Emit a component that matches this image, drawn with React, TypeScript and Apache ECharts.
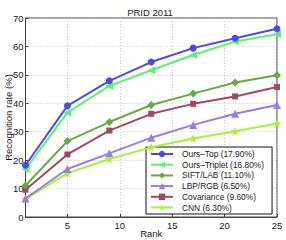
import React, { useEffect, useRef } from "react";
import * as echarts from "echarts";

const ranks = [1, 5, 9, 13, 17, 21, 25];
const oursTop = [18.2, 39.1, 47.9, 54.5, 59.4, 62.9, 66.2];
const oursTriplet = [16.8, 36.7, 46.1, 51.6, 57.0, 61.7, 64.3];
const siftLab = [11.1, 26.7, 33.4, 39.4, 43.4, 47.3, 49.9];
const lbpRgb = [6.5, 16.9, 22.4, 27.9, 32.4, 36.3, 39.4];
const covariance = [9.6, 22.0, 30.4, 36.3, 39.8, 42.4, 45.7];
const cnn = [6.3, 15.4, 20.4, 24.5, 27.6, 30.2, 32.9];
const xTicks = [5, 10, 15, 20, 25];

const names = [
  "Ours–Top (17.90%)",
  "Ours–Triplet (16.80%)",
  "SIFT/LAB (11.10%)",
  "LBP/RGB (6.50%)",
  "Covariance (9.60%)",
  "CNN (6.30%)",
];
const colors = ["#4b4be0", "#5ef072", "#6aa845", "#9a7edc", "#a04a62", "#a8f03c"];
const star =
  "path://M0,-10L2.35,-3.24L9.51,-3.09L3.8,1.24L5.88,8.09L0,4L-5.88,8.09L-3.8,1.24L-9.51,-3.09L-2.35,-3.24Z";
const symbols = ["circle", "triangle", "diamond", "triangle", "rect", star];
const rotates = [0, 90, 0, 0, 0, 0];
const sizes = [7, 8, 8, 8, 6, 9];
const values = [oursTop, oursTriplet, siftLab, lbpRgb, covariance, cnn];

export default function App() {
  const ref = useRef<HTMLDivElement>(null);
  useEffect(() => {
    const chart = echarts.init(ref.current!, null, { renderer: "svg" });
    const font = "Liberation Sans";
    chart.setOption({
      animation: false,
      textStyle: { fontFamily: font },
      title: {
        text: "PRID 2011",
        left: 145,
        top: 2,
        textAlign: "center",
        textStyle: { fontSize: 9.5, fontWeight: "normal", color: "#222", fontFamily: font },
      },
      grid: {
        left: 25.5,
        right: 9,
        top: 18,
        bottom: 23,
        show: true,
        borderColor: "#444",
        borderWidth: 1,
        containLabel: false,
        outerBoundsMode: "none",
      },
      legend: {
        orient: "vertical",
        left: 146,
        top: 147,
        padding: [2.5, 8, 2, 4],
        itemGap: 1.7,
        itemWidth: 22,
        itemHeight: 8,
        borderColor: "#111",
        borderWidth: 1,
        backgroundColor: "#fff",
        textStyle: { fontSize: 8.4, lineHeight: 9, color: "#222", fontFamily: font, padding: [0, 0, 0, 4] },
        data: names,
      },
      xAxis: {
        type: "value",
        min: 1,
        max: 25,
        name: "Rank",
        nameLocation: "middle",
        nameGap: 11,
        nameMoveOverlap: false,
        nameTextStyle: { fontSize: 9.5, color: "#222", fontFamily: font },
        axisLine: { show: true, lineStyle: { color: "#444" } },
        axisTick: { show: true, inside: true, length: 3, customValues: xTicks, lineStyle: { color: "#444" } },
        axisLabel: { customValues: xTicks, fontSize: 9.5, color: "#222", margin: 3, fontFamily: font },
        splitLine: { show: true, lineStyle: { color: "#c8c8c8", type: [1, 2] } },
      },
      yAxis: {
        type: "value",
        min: 0,
        max: 70,
        interval: 10,
        name: "Recognition rate (%)",
        nameLocation: "middle",
        nameGap: 12,
        nameMoveOverlap: false,
        nameTextStyle: { fontSize: 9.5, color: "#222", fontFamily: font },
        axisLine: { show: true, lineStyle: { color: "#444" } },
        axisTick: { show: true, inside: true, length: 3, lineStyle: { color: "#444" } },
        axisLabel: { fontSize: 9.5, color: "#222", margin: 2, fontFamily: font },
        splitLine: { show: true, lineStyle: { color: "#c8c8c8", type: [1, 2] } },
      },
      series: names.map((n, i) => ({
        name: n,
        type: "line",
        data: ranks.map((r, j) => [r, values[i][j]]),
        symbol: symbols[i],
        symbolRotate: rotates[i],
        symbolSize: sizes[i],
        showAllSymbol: true,
        z: 10 - i,
        lineStyle: { color: colors[i], width: 2 },
        itemStyle: { color: colors[i] },
      })),
    });
    return () => chart.dispose();
  }, []);
  return <div ref={ref} style={{ width: 286, height: 240, position: "absolute", left: 0, top: 0 }} />;
}
